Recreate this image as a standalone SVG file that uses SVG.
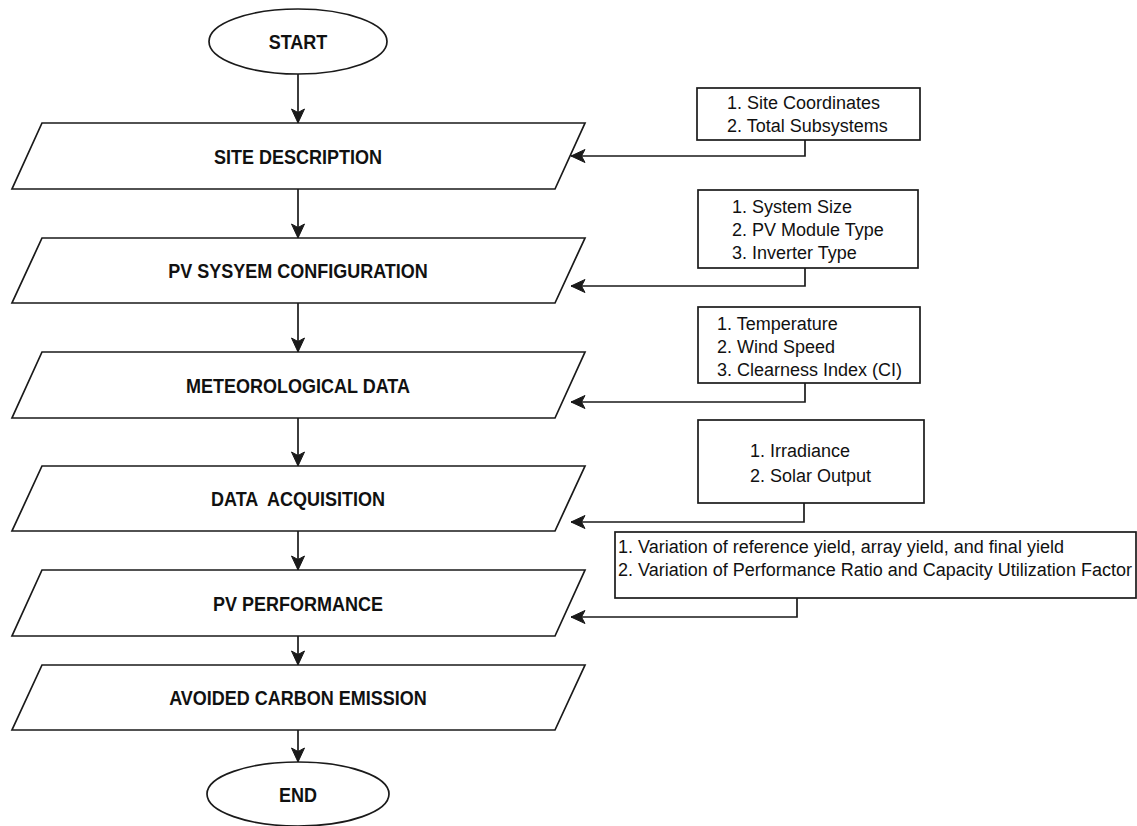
<svg xmlns="http://www.w3.org/2000/svg" width="1137" height="826" viewBox="0 0 1137 826">
<style>
  .shape { fill: #ffffff; stroke: #1a1a1a; stroke-width: 1.7; }
  .title { font-family: "Liberation Sans", Arial, sans-serif; font-size: 18px; font-weight: bold; fill: #111; text-anchor: middle; white-space: pre; }
  .item { font-family: "Liberation Sans", Arial, sans-serif; font-size: 18px; fill: #111; }
  .conn { fill: none; stroke: #1a1a1a; stroke-width: 1.7; }
</style>
<defs>
  <marker id="arr" viewBox="0 0 16 14" refX="15" refY="7" markerWidth="16" markerHeight="14" markerUnits="userSpaceOnUse" orient="auto">
    <path d="M15,7 L1,0.5 L4.5,7 L1,13.5 Z" fill="#1a1a1a" stroke="#1a1a1a" stroke-width="1"/>
  </marker>
</defs>
<rect width="1137" height="826" fill="#ffffff"/>

<g id="start">
  <ellipse class="shape" cx="298" cy="41.5" rx="89" ry="32.5"/>
  <text class="title" transform="translate(298,49) scale(1,1.16)">START</text>
</g>
<g id="site-description">
  <polygon class="shape" points="42,123 585,123 555,189 12,189"/>
  <text class="title" transform="translate(298,163.5) scale(1,1.16)">SITE DESCRIPTION</text>
</g>
<g id="pv-config">
  <polygon class="shape" points="42,238 585,238 555,303 12,303"/>
  <text class="title" transform="translate(298,278) scale(1,1.16)">PV SYSYEM CONFIGURATION</text>
</g>
<g id="meteorological">
  <polygon class="shape" points="42,352 585,352 555,418 12,418"/>
  <text class="title" transform="translate(298,392.5) scale(1,1.16)">METEOROLOGICAL DATA</text>
</g>
<g id="data-acquisition">
  <polygon class="shape" points="42,466 585,466 555,531 12,531"/>
  <text class="title" transform="translate(298,506) scale(1,1.16)" xml:space="preserve">DATA  ACQUISITION</text>
</g>
<g id="pv-performance">
  <polygon class="shape" points="42,570 585,570 555,636 12,636"/>
  <text class="title" transform="translate(298,610.5) scale(1,1.16)">PV PERFORMANCE</text>
</g>
<g id="avoided-carbon">
  <polygon class="shape" points="42,665 585,665 555,730 12,730"/>
  <text class="title" transform="translate(298,705) scale(1,1.16)">AVOIDED CARBON EMISSION</text>
</g>
<g id="end">
  <ellipse class="shape" cx="298" cy="794" rx="91" ry="32"/>
  <text class="title" transform="translate(298,801.5) scale(1,1.16)">END</text>
</g>

<g id="box-site">
  <rect class="shape" x="697" y="88" width="223" height="52"/>
  <text class="item" x="727" y="108.5">1. Site Coordinates</text>
  <text class="item" x="727" y="131.5">2. Total Subsystems</text>
</g>
<g id="box-config">
  <rect class="shape" x="698" y="190" width="220" height="78"/>
  <text class="item" x="732" y="212.5">1. System Size</text>
  <text class="item" x="732" y="235.5">2. PV Module Type</text>
  <text class="item" x="732" y="259">3. Inverter Type</text>
</g>
<g id="box-meteo">
  <rect class="shape" x="698" y="307" width="222" height="76"/>
  <text class="item" x="717" y="330">1. Temperature</text>
  <text class="item" x="717" y="353">2. Wind Speed</text>
  <text class="item" x="717" y="376">3. Clearness Index (CI)</text>
</g>
<g id="box-acq">
  <rect class="shape" x="698" y="420" width="226" height="83"/>
  <text class="item" x="750" y="457">1. Irradiance</text>
  <text class="item" x="750" y="482">2. Solar Output</text>
</g>
<g id="box-perf">
  <rect class="shape" x="615" y="532" width="521" height="66"/>
  <text class="item" x="618" y="553">1. Variation of reference yield, array yield, and final yield</text>
  <text class="item" x="618" y="576">2. Variation of Performance Ratio and Capacity Utilization Factor</text>
</g>

<g id="connectors">
  <path class="conn" marker-end="url(#arr)" d="M298,74 L298,123"/>
  <path class="conn" marker-end="url(#arr)" d="M298,189 L298,238"/>
  <path class="conn" marker-end="url(#arr)" d="M298,303 L298,352"/>
  <path class="conn" marker-end="url(#arr)" d="M298,418 L298,466"/>
  <path class="conn" marker-end="url(#arr)" d="M298,531 L298,570"/>
  <path class="conn" marker-end="url(#arr)" d="M298,636 L298,665"/>
  <path class="conn" marker-end="url(#arr)" d="M298,730 L298,762"/>
  <path class="conn" marker-end="url(#arr)" d="M805,140 L805,156 L571,156"/>
  <path class="conn" marker-end="url(#arr)" d="M805,268 L805,286 L571,286"/>
  <path class="conn" marker-end="url(#arr)" d="M805,383 L805,402 L571,402"/>
  <path class="conn" marker-end="url(#arr)" d="M804,503 L804,522 L571,522"/>
  <path class="conn" marker-end="url(#arr)" d="M797,598 L797,617 L571,617"/>
</g>
</svg>
